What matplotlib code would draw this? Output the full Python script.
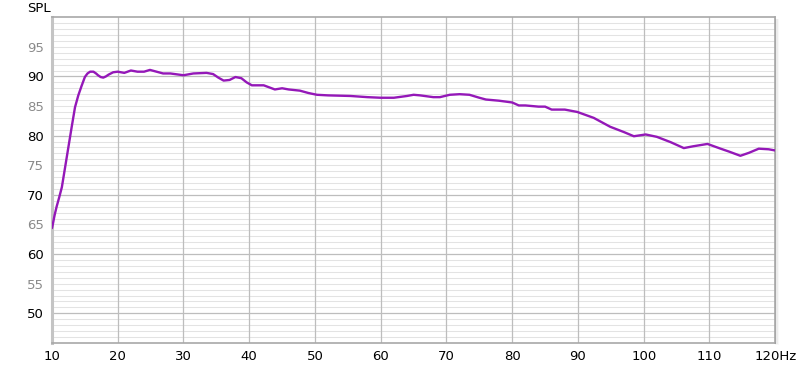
import matplotlib
matplotlib.use("Agg")
import matplotlib.pyplot as plt
from matplotlib.patches import Rectangle

# ── data ──────────────────────────────────────────────────────────────────────
freq = [10.0, 10.1, 10.4, 10.7, 11.1, 11.5, 12.0, 12.5, 13.0, 13.5, 14.0, 14.5,
        15.0, 15.4, 15.8, 16.3, 16.7, 17.0, 17.4, 17.8, 18.2, 18.6, 19.3, 20.0,
        21.0, 22.0, 23.0, 24.0, 24.9, 25.9, 26.9, 28.0, 30.0, 31.5, 33.5, 34.5,
        35.3, 36.1, 37.0, 37.9, 38.8, 39.6, 40.4, 42.2, 43.9, 45.0, 46.0, 47.7,
        49.0, 50.3, 52.0, 55.4, 58.0, 60.0, 62.0, 64.0, 65.0, 66.0, 68.0, 69.0,
        70.5, 72.0, 73.5, 75.0, 76.0, 78.0, 80.0, 81.0, 82.0, 84.0, 85.0, 86.0,
        88.0, 89.9, 92.4, 94.9, 97.0, 98.5, 100.3, 102.0, 104.1, 106.1, 107.5,
        109.7, 111.7, 113.0, 114.7, 116.0, 117.5, 119.0, 120.0]
spl = [64.4, 64.9, 66.6, 68.0, 69.6, 71.3, 74.7, 78.1, 81.5, 84.8, 86.8, 88.4,
       89.9, 90.5, 90.8, 90.8, 90.5, 90.2, 89.9, 89.8, 90.0, 90.3, 90.7, 90.8,
       90.6, 91.0, 90.8, 90.8, 91.1, 90.8, 90.5, 90.5, 90.2, 90.5, 90.6, 90.4,
       89.8, 89.3, 89.4, 89.9, 89.7, 89.0, 88.5, 88.5, 87.8, 88.0, 87.8, 87.6,
       87.2, 86.9, 86.8, 86.7, 86.5, 86.4, 86.4, 86.7, 86.9, 86.8, 86.5, 86.5,
       86.9, 87.0, 86.9, 86.4, 86.1, 85.9, 85.6, 85.1, 85.1, 84.9, 84.9, 84.4,
       84.4, 84.0, 83.0, 81.5, 80.6, 79.9, 80.2, 79.8, 78.9, 77.9, 78.2,
       78.6, 77.8, 77.3, 76.6, 77.1, 77.8, 77.7, 77.5]

x_ticks = [10, 20, 30, 40, 50, 60, 70, 80, 90, 100, 110, 120]
x_labels = ["10", "20", "30", "40", "50", "60", "70", "80", "90", "100", "110", "120Hz"]
y_ticks = [50, 55, 60, 65, 70, 75, 80, 85, 90, 95]

C_LINE = "#9418b8"
C_GRID_MAJ = "#bdbdbd"
C_GRID_MIN = "#e3e3e3"
C_FRAME = "#a8a8a8"

plt.rcParams["font.family"] = "DejaVu Sans"

fig = plt.figure(figsize=(8, 3.66), dpi=100)
fig.patch.set_facecolor("white")
ax = fig.add_axes([0.065, 0.063, 0.904, 0.890])
ax.set_xlim(10, 120)
ax.set_ylim(45, 100)

# grid: 1 dB lines, darker every 10 dB, vertical every 10 Hz
for v in range(46, 100):
    major = v % 10 == 0
    ax.axhline(v, color=C_GRID_MAJ if major else C_GRID_MIN,
               linewidth=0.9 if major else 0.75, zorder=1)
for v in x_ticks[1:-1]:
    ax.axvline(v, color=C_GRID_MAJ, linewidth=0.9, zorder=1)

ax.plot(freq, spl, color=C_LINE, linewidth=1.7, zorder=3,
        solid_capstyle="round", solid_joinstyle="round")

# frame
for s in ax.spines.values():
    s.set_color(C_FRAME)
    s.set_linewidth(1.2)
ax.spines["left"].set_linewidth(2.2)
ax.spines["left"].set_color("#c4c4c4")
# soft shadow on the right of the plot area
for i, a in enumerate([0.18, 0.10, 0.05]):
    fig.patches.append(Rectangle((0.065 + 0.904, 0.063 - 0.002 * (i + 1)),
                                 0.0015 * (i + 1), 0.890, transform=fig.transFigure,
                                 facecolor="#888888", alpha=a, edgecolor="none"))

ax.set_xticks(x_ticks)
ax.set_xticklabels(x_labels)
ax.set_yticks(y_ticks)
ax.set_yticklabels([str(v) for v in y_ticks])
ax.tick_params(length=0, labelsize=9.5, pad=6)
ax.tick_params(axis="x", pad=5)
for lab, v in zip(ax.get_yticklabels(), y_ticks):
    lab.set_color("black" if v % 10 == 0 else "#8a8a8a")

fig.text(0.034, 0.978, "SPL", fontsize=9.5, ha="left", va="center")

fig.savefig("out.png", dpi=100, facecolor="white")
